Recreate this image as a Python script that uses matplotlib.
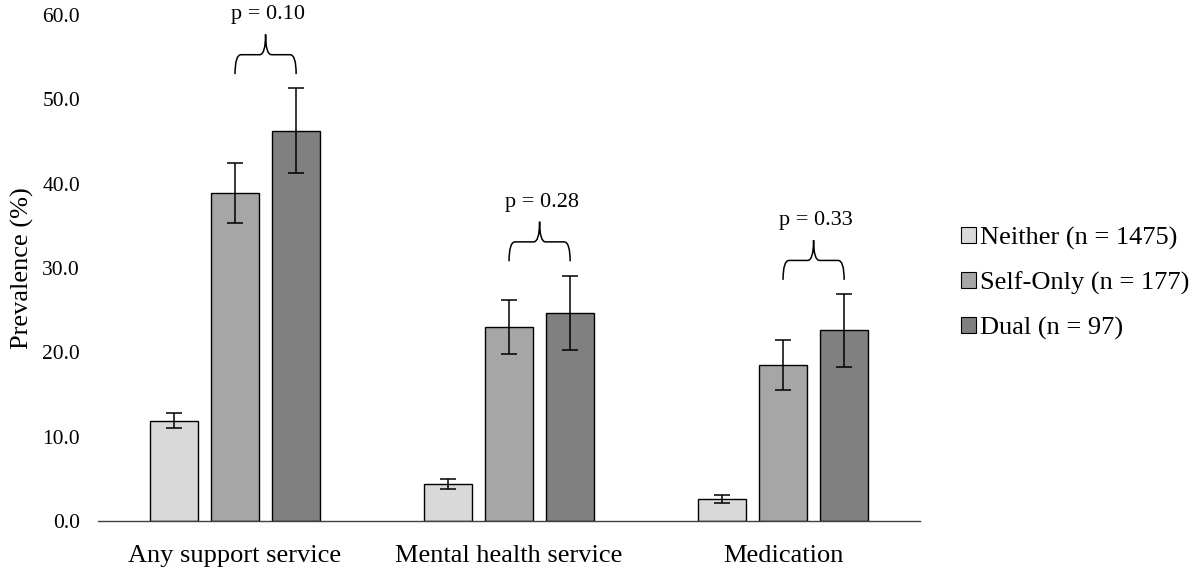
import numpy as np
import matplotlib.pyplot as plt
from matplotlib.path import Path
from matplotlib.patches import PathPatch, Patch

plt.rcParams['font.family'] = ['Liberation Serif', 'DejaVu Serif']
plt.rcParams['font.size'] = 16

categories = ["Any support service", "Mental health service", "Medication"]
groups = ["Neither (n = 1475)", "Self-Only (n = 177)", "Dual (n = 97)"]
neither = [11.9, 4.4, 2.6]
neither_err = [0.9, 0.6, 0.45]
self_only = [38.9, 23.0, 18.5]
self_only_err = [3.6, 3.2, 3.0]
dual = [46.3, 24.7, 22.6]
dual_err = [5.0, 4.4, 4.3]
p_values = ["p = 0.10", "p = 0.28", "p = 0.33"]

colors = ['#d9d9d9', '#a6a6a6', '#808080']

fig = plt.figure(figsize=(12, 5.71), dpi=100)
ax = fig.add_axes([0.0817, 0.0876, 0.685, 0.886])

x = np.arange(len(categories))
width = 0.175
step = 0.223
series = [(neither, neither_err), (self_only, self_only_err), (dual, dual_err)]
for i, (vals, errs) in enumerate(series):
    ax.bar(x + (i - 1) * step, vals, width, yerr=errs, color=colors[i],
           edgecolor='black', linewidth=1.0, label=groups[i],
           error_kw=dict(ecolor='black', elinewidth=1.1, capsize=6, capthick=1.1))

# curly braces with p-values between Self-Only and Dual
for k in range(len(categories)):
    x0 = x[k]
    x1 = x[k] + step
    xm = (x0 + x1) / 2
    yb = max(self_only[k] + self_only_err[k], dual[k] + dual_err[k]) + 1.7
    h1 = 2.3
    h2 = 2.4
    r = 0.022
    yh = yb + h1
    verts = [(x0, yb), (x0, yh), (x0 + r, yh), (xm - r, yh), (xm, yh), (xm, yh + h2),
             (x1, yb), (x1, yh), (x1 - r, yh), (xm + r, yh), (xm, yh), (xm, yh + h2)]
    codes = [Path.MOVETO, Path.CURVE3, Path.CURVE3, Path.LINETO, Path.CURVE3, Path.CURVE3,
             Path.MOVETO, Path.CURVE3, Path.CURVE3, Path.LINETO, Path.CURVE3, Path.CURVE3]
    ax.add_patch(PathPatch(Path(verts, codes), facecolor='none', edgecolor='black',
                           linewidth=1.1, clip_on=False))
    ax.text(xm + 0.01, yh + h2 + 1.2, p_values[k], ha='center', va='bottom', fontsize=16,
            clip_on=False)

ax.set_xlim(-0.5, 2.5)
ax.set_ylim(0, 60)
ax.set_xticks(x)
ax.set_xticklabels(categories, fontsize=19)
ax.set_yticks(np.arange(0, 61, 10))
ax.set_yticklabels([f'{v:.1f}' for v in np.arange(0, 61, 10)], fontsize=15.5)
ax.tick_params(axis='x', length=0, pad=17)
ax.tick_params(axis='y', length=0, pad=13)
ax.set_ylabel("Prevalence (%)", fontsize=19, labelpad=6)
for s in ['top', 'right', 'left']:
    ax.spines[s].set_visible(False)
ax.spines['bottom'].set_color('#404040')
ax.spines['bottom'].set_linewidth(1.0)

handles = [Patch(facecolor=c, edgecolor='black', linewidth=0.8) for c in colors]
fig.legend(handles, groups, loc='center left', bbox_to_anchor=(0.781, 0.504),
           frameon=False, handlelength=0.57, handleheight=0.57, handletextpad=0.15,
           labelspacing=0.83, fontsize=19)

plt.savefig('out.png', dpi=100)
